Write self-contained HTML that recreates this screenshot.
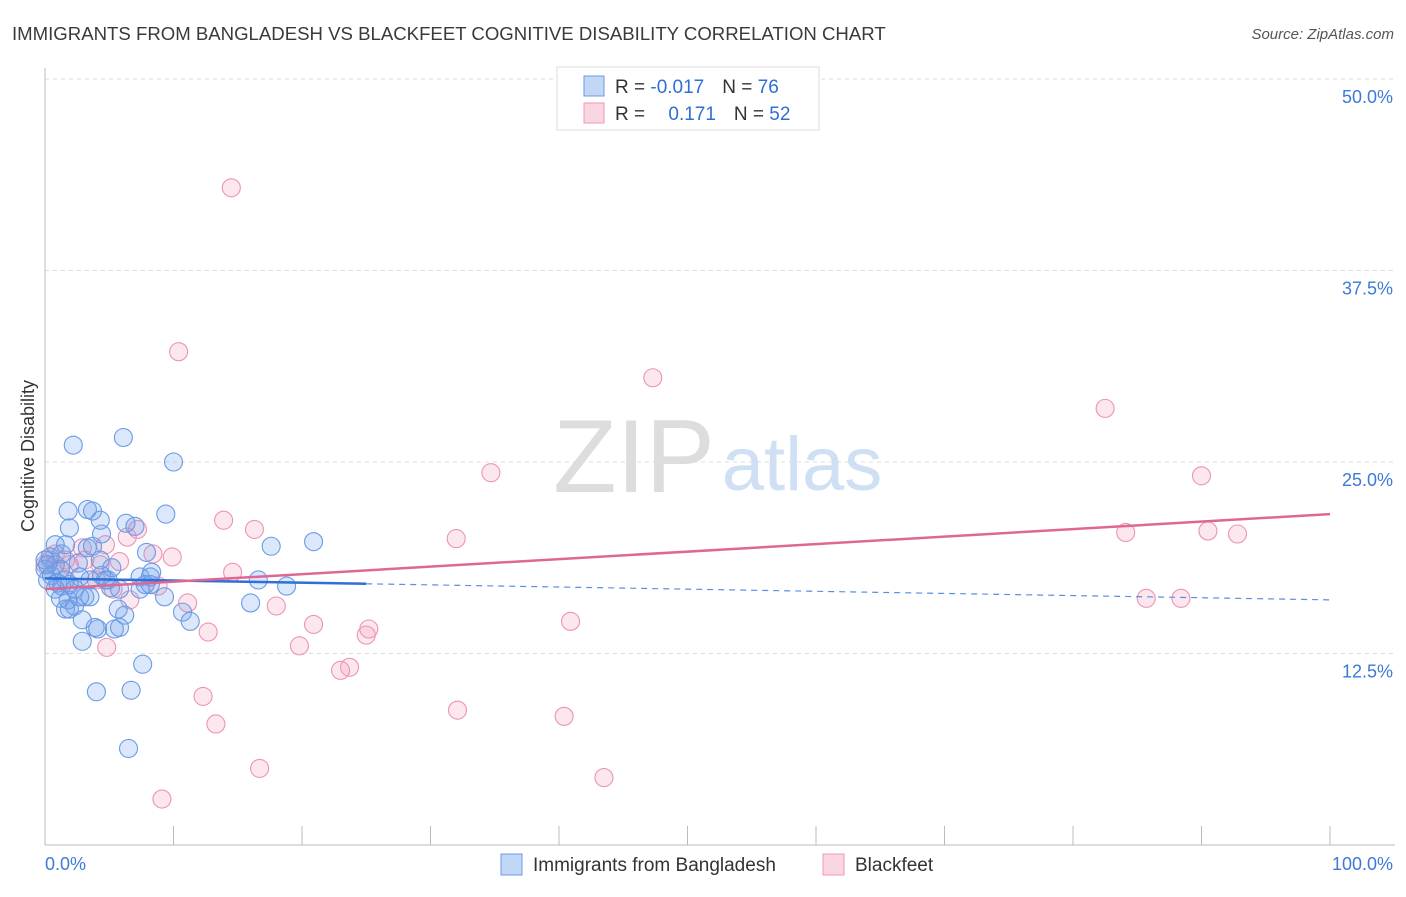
<!DOCTYPE html>
<html><head><meta charset="utf-8"><style>
body{margin:0;background:#fff;font-family:"Liberation Sans",sans-serif}
svg text{font-family:"Liberation Sans",sans-serif}
</style></head><body>
<svg id="chart" width="1406" height="892" xmlns="http://www.w3.org/2000/svg">
<text x="12" y="40" font-size="18.6" fill="#3a3a3a">IMMIGRANTS FROM BANGLADESH VS BLACKFEET COGNITIVE DISABILITY CORRELATION CHART</text>
<text x="1394" y="39" font-size="15" fill="#555" font-style="italic" text-anchor="end">Source: ZipAtlas.com</text>
<g>
<text x="634" y="492" font-size="104" fill="#ddd" font-family="Liberation Serif" text-anchor="middle">ZIP</text>
<text x="802" y="490" font-size="76" fill="#cfe0f5" text-anchor="middle">atlas</text>
</g>
<g id="grid"></g>
<g id="axes"></g>
<g id="marks"></g>
<text transform="translate(34,456) rotate(-90)" font-size="18" fill="#333" text-anchor="middle">Cognitive Disability</text>
<g>
<rect x="557" y="67" width="262" height="63" fill="#fff" stroke="#ddd"/>
<rect x="584" y="76" width="20" height="20" fill="rgba(120,165,235,0.45)" stroke="#6a9be6"/>
<rect x="584" y="103" width="20" height="20" fill="rgba(245,165,190,0.45)" stroke="#ee9ab8"/>
<text x="615" y="93" font-size="19" fill="#333">R = <tspan fill="#2f6fd6">-0.017</tspan><tspan dx="18">N = </tspan><tspan fill="#2f6fd6">76</tspan></text>
<text x="615" y="120" font-size="19" fill="#333">R = <tspan fill="#2f6fd6" dx="18">0.171</tspan><tspan dx="18">N = </tspan><tspan fill="#2f6fd6">52</tspan></text>
</g>
<g>
<rect x="501" y="854" width="21" height="21" fill="rgba(120,165,235,0.45)" stroke="#6a9be6"/>
<text x="533" y="871" font-size="19" fill="#333">Immigrants from Bangladesh</text>
<rect x="823" y="854" width="21" height="21" fill="rgba(245,165,190,0.45)" stroke="#ee9ab8"/>
<text x="855" y="871" font-size="19" fill="#333">Blackfeet</text>
</g>
</svg>
<script>
const yTicks=[12.5,25,37.5,50];
const yTickLabels=["12.5%","25.0%","37.5%","50.0%"];
const xTicks=[0,10,20,30,40,50,60,70,80,90,100];
const blueX=[2.2,6.1,10.0,1.8,3.3,3.7,4.3,6.3,7.0,9.4,0.8,1.6,3.3,3.7,7.9,17.6,20.9,1.9,4.4,0.4,0.8,1.2,0.5,0.2,1.0,1.6,2.7,1.3,1.9,3.5,4.4,4.9,7.4,7.8,8.3,8.2,16.6,18.8,5.1,5.8,9.3,1.6,1.9,2.3,2.7,3.1,3.5,5.7,6.2,10.7,11.3,16.0,2.9,3.9,4.1,5.4,5.8,2.9,7.6,4.0,6.7,6.5,0.0,0.2,0.8,1.2,2.6,5.2,7.4,4.3,1.3,8.2,4.7,0.0,2.3,1.8];
const blueY=[26.1,26.6,25.0,21.8,21.9,21.8,21.2,21.0,20.8,21.6,19.6,19.6,19.4,19.5,19.1,19.5,19.8,20.7,20.3,18.8,18.3,18.0,17.6,17.3,17.1,17.3,17.5,16.9,17.0,17.3,17.6,17.3,17.5,17.0,17.8,17.0,17.3,16.9,16.8,16.7,16.2,15.4,15.4,15.6,16.2,16.2,16.2,15.4,15.0,15.2,14.6,15.8,14.7,14.2,14.1,14.1,14.2,13.3,11.8,10.0,10.1,6.3,18.0,18.3,16.7,16.1,18.4,18.1,16.7,18.6,19.0,17.5,17.3,18.6,16.7,16.0];
const pinkX=[14.5,10.4,47.3,82.5,34.7,90.0,13.9,16.3,7.2,6.4,32.0,84.1,90.5,92.8,2.9,4.7,8.4,9.9,5.8,4.3,14.6,0.4,1.2,1.9,4.0,5.3,6.6,8.8,11.1,18.0,85.7,88.4,40.9,20.9,25.2,25.0,12.7,19.8,4.8,23.7,23.0,12.3,32.1,40.4,13.3,16.7,43.5,9.1,0.8,1.6,3.1,0.0];
const pinkY=[42.9,32.2,30.5,28.5,24.3,24.1,21.2,20.6,20.6,20.1,20.0,20.4,20.5,20.3,19.4,19.6,19.0,18.8,18.5,18.3,17.8,18.6,18.0,18.3,17.3,16.7,16.0,16.9,15.8,15.6,16.1,16.1,14.6,14.4,14.1,13.7,13.9,13.0,12.9,11.6,11.4,9.7,8.8,8.4,7.9,5.0,4.4,3.0,19.0,18.6,18.6,18.3];
const blueTrend=[17.4,16.0];
const pinkTrend=[16.7,21.6];
const blueSolidEnd=25;
const NS="http://www.w3.org/2000/svg";
const sx=v=>45+v*12.85, sy=v=>845-v*15.32;
function mk(tag,attrs,parent){const e=document.createElementNS(NS,tag);for(const k in attrs)e.setAttribute(k,attrs[k]);parent.appendChild(e);return e;}
const grid=document.getElementById('grid'),axes=document.getElementById('axes'),marks=document.getElementById('marks');
yTicks.forEach((t,i)=>{
 const l=mk('line',{x1:45,x2:1395,y1:sy(t),y2:sy(t),stroke:'#ddd','stroke-dasharray':'4,4'},grid);
 
 
 const tx=mk('text',{x:1393,y:sy(t)+24,'font-size':18,fill:'#3d7ad6','text-anchor':'end'},axes);
 tx.textContent=yTickLabels[i];
 
 
});
const ya=mk('line',{x1:45,x2:45,y1:68,y2:845,stroke:'#bbb'},axes);


const xa=mk('line',{x1:45,x2:1395,y1:845,y2:845,stroke:'#bbb'},axes);


xTicks.forEach(t=>{
 const l=mk('line',{x1:sx(t),x2:sx(t),y1:826,y2:845,stroke:'#bbb'},axes);
 
 
});
const x0=mk('text',{x:45,y:870,'font-size':18,fill:'#3d7ad6'},axes);x0.textContent='0.0%';


const x1=mk('text',{x:1393,y:870,'font-size':18,fill:'#3d7ad6','text-anchor':'end'},axes);x1.textContent='100.0%';


pinkX.forEach((v,i)=>{
 const c=mk('circle',{cx:sx(v),cy:sy(pinkY[i]),r:9,fill:'rgba(245,160,188,0.25)',stroke:'#eb94b4','stroke-width':1.1},marks);
 
 
});
blueX.forEach((v,i)=>{
 const c=mk('circle',{cx:sx(v),cy:sy(blueY[i]),r:9,fill:'rgba(110,160,235,0.25)',stroke:'#6a9be6','stroke-width':1.1},marks);
 
 
});
const by=x=>blueTrend[0]+(blueTrend[1]-blueTrend[0])*x/100;
const bs=mk('line',{x1:sx(0),y1:sy(by(0)),x2:sx(blueSolidEnd),y2:sy(by(blueSolidEnd)),stroke:'#2f6fd6','stroke-width':2.5},marks);


const bd=mk('line',{x1:sx(blueSolidEnd),y1:sy(by(blueSolidEnd)),x2:sx(100),y2:sy(by(100)),stroke:'#5a8fe0','stroke-width':1.2,'stroke-dasharray':'6,5'},marks);


const pl=mk('line',{x1:sx(0),y1:sy(pinkTrend[0]),x2:sx(100),y2:sy(pinkTrend[1]),stroke:'#e06794','stroke-width':2.5},marks);


</script>
</body></html>
